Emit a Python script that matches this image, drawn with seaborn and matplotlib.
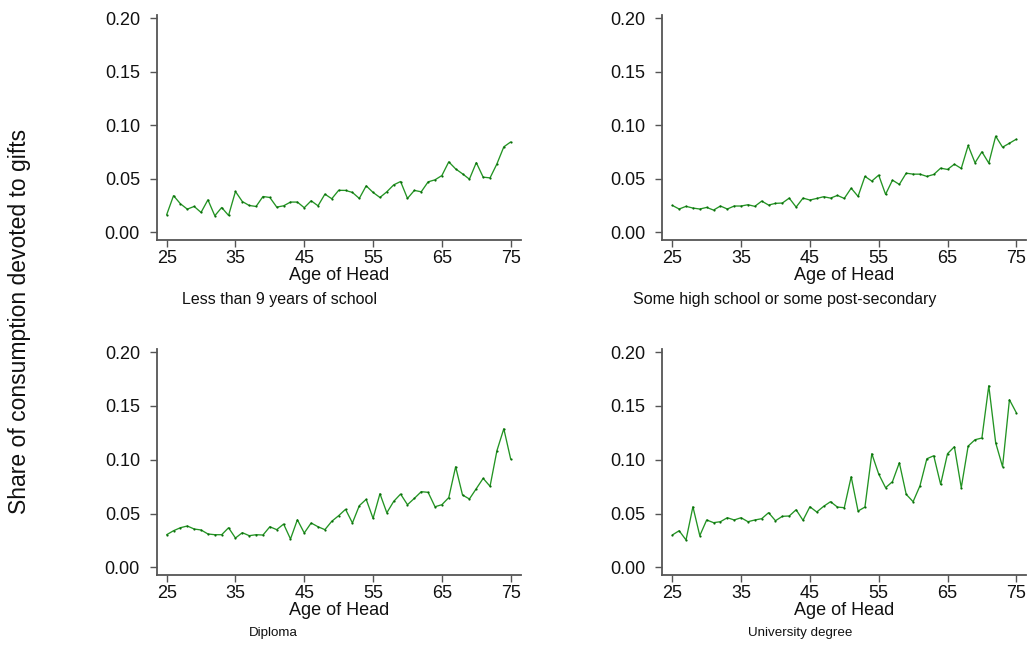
import numpy as np
import pandas as pd
import matplotlib
matplotlib.use("Agg")
import matplotlib.pyplot as plt
import seaborn as sns

ages = list(range(25, 76))

less_than_9 = [0.0161, 0.0340, 0.0264, 0.0214, 0.0239, 0.0183, 0.0301, 0.0152, 0.0229, 0.0155,
               0.0379, 0.0285, 0.0248, 0.0239, 0.0332, 0.0323, 0.0233, 0.0245, 0.0280, 0.0280,
               0.0227, 0.0292, 0.0245, 0.0354, 0.0311, 0.0390, 0.0389, 0.0370, 0.0314, 0.0432,
               0.0370, 0.0323, 0.0376, 0.0441, 0.0472, 0.0314, 0.0389, 0.0376, 0.0469, 0.0488,
               0.0528, 0.0656, 0.0590, 0.0544, 0.0494, 0.0649, 0.0513, 0.0506, 0.0637, 0.0796,
               0.0842]

some_high_school = [0.0249, 0.0215, 0.0240, 0.0224, 0.0215, 0.0230, 0.0205, 0.0243, 0.0215, 0.0243,
                    0.0243, 0.0255, 0.0240, 0.0289, 0.0252, 0.0268, 0.0271, 0.0317, 0.0233, 0.0317,
                    0.0299, 0.0314, 0.0330, 0.0317, 0.0342, 0.0314, 0.0410, 0.0333, 0.0520, 0.0476,
                    0.0532, 0.0352, 0.0485, 0.0445, 0.0550, 0.0541, 0.0541, 0.0520, 0.0538, 0.0597,
                    0.0585, 0.0634, 0.0594, 0.0809, 0.0647, 0.0750, 0.0644, 0.0896, 0.0793, 0.0830,
                    0.0868]

diploma = [0.0303, 0.0340, 0.0368, 0.0384, 0.0356, 0.0347, 0.0310, 0.0303, 0.0303, 0.0368,
           0.0272, 0.0322, 0.0294, 0.0303, 0.0300, 0.0377, 0.0350, 0.0402, 0.0263, 0.0442,
           0.0319, 0.0412, 0.0377, 0.0350, 0.0428, 0.0480, 0.0539, 0.0412, 0.0573, 0.0632,
           0.0455, 0.0684, 0.0507, 0.0613, 0.0681, 0.0582, 0.0641, 0.0703, 0.0697, 0.0563,
           0.0582, 0.0648, 0.0935, 0.0672, 0.0635, 0.0731, 0.0827, 0.0753, 0.1084, 0.1288,
           0.1006]

university = [0.0300, 0.0340, 0.0254, 0.0563, 0.0294, 0.0440, 0.0415, 0.0424, 0.0461, 0.0440,
              0.0461, 0.0424, 0.0440, 0.0452, 0.0508, 0.0433, 0.0474, 0.0477, 0.0535, 0.0437,
              0.0563, 0.0514, 0.0567, 0.0610, 0.0560, 0.0554, 0.0842, 0.0523, 0.0560, 0.1056,
              0.0867, 0.0740, 0.0796, 0.0972, 0.0678, 0.0610, 0.0758, 0.1009, 0.1037, 0.0771,
              0.1056, 0.1121, 0.0740, 0.1127, 0.1186, 0.1202, 0.1688, 0.1158, 0.0935, 0.1558,
              0.1437]

groups = ["Less than 9 years of school", "Some high school or some post-secondary",
          "Diploma", "University degree"]
series = [less_than_9, some_high_school, diploma, university]

x_ticks = [25, 35, 45, 55, 65, 75]
y_ticks = [0.00, 0.05, 0.10, 0.15, 0.20]

sns.set_theme(style="ticks")
plt.rcParams["font.family"] = ["Liberation Sans", "DejaVu Sans"]

fig = plt.figure(figsize=(10.30, 6.47), dpi=100)

axes_pos = [
    [0.1521, 0.629, 0.3534, 0.348],
    [0.6430, 0.629, 0.3534, 0.348],
    [0.1521, 0.1107, 0.3534, 0.350],
    [0.6430, 0.1107, 0.3534, 0.350],
]
# caption centre (x, y) and font size for each panel
caption_spec = [(279 / 1030, 1 - 299 / 647, 11.5), (785 / 1030, 1 - 299 / 647, 11.5),
                (273 / 1030, 1 - 633 / 647, 9.6), (800 / 1030, 1 - 633 / 647, 9.6)]

spine_col = "#555555"
for pos, name, vals, (cx, cy, fs) in zip(axes_pos, groups, series, caption_spec):
    ax = fig.add_axes(pos)
    df = pd.DataFrame({"age": ages, "share": vals})
    sns.lineplot(data=df, x="age", y="share", ax=ax, color="#239423", linewidth=0.95,
                 marker="o", markersize=1.6, markeredgewidth=0, markerfacecolor="#0a6e0a")
    ax.set_xlim(23.55, 76.45)
    ax.set_ylim(-0.0075, 0.203)
    ax.set_xticks(x_ticks)
    ax.set_yticks(y_ticks)
    ax.set_yticklabels([f"{v:.2f}" for v in y_ticks])
    ax.tick_params(axis="y", labelsize=13, length=5, width=1.0, color=spine_col,
                   labelcolor="#111111", pad=7)
    ax.tick_params(axis="x", labelsize=13, length=5, width=1.0, color=spine_col,
                   labelcolor="#111111", pad=2)
    ax.set_xlabel("Age of Head", fontsize=13, color="#111111", labelpad=0)
    ax.set_ylabel("")
    ax.xaxis.set_label_coords(0.5, -0.118)
    for s in ["top", "right"]:
        ax.spines[s].set_visible(False)
    for s in ["left", "bottom"]:
        ax.spines[s].set_color(spine_col)
        ax.spines[s].set_linewidth(1.3)
    fig.text(cx, cy, name, ha="center", va="center", fontsize=fs, color="#111111")

fig.text(20 / 1030, 1 - 321 / 647, "Share of consumption devoted to gifts", rotation=90,
         ha="center", va="center", fontsize=16.5, color="#111111")

fig.savefig("out.png", dpi=100, facecolor="white")
